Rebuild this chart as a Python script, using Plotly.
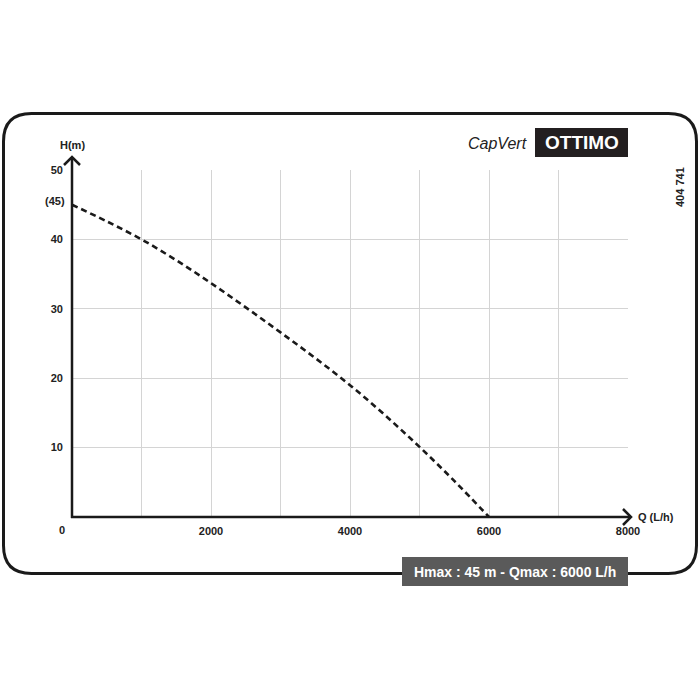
import plotly.graph_objects as go

# ---- data ----
flow_lh = [0, 500, 1000, 1500, 2000, 2500, 3000, 3500, 4000, 4500, 5000, 5500, 6000]
head_m = [45, 42.6, 40.0, 37.0, 33.7, 30.2, 26.6, 22.9, 19.0, 14.7, 10.1, 5.2, 0]
x_grid = [1000, 2000, 3000, 4000, 5000, 6000, 7000, 8000]
x_labels = ["", "2000", "", "4000", "", "6000", "", "8000"]
y_grid = [10, 20, 30, 40, 50]
y_labels = ["10", "20", "30", "40", "50"]
hmax_label = "(45)"
hmax = 45

W, H = 700, 700
L, R, T, B = 72, 628, 170, 517  # plot area in page pixels


def px(x):
    return (x - L) / (R - L)


def py(y):
    return (B - y) / (B - T)


FONT = "Liberation Sans, Arial, sans-serif"

fig = go.Figure()
fig.add_trace(go.Scatter(
    x=flow_lh, y=head_m, mode="lines",
    line=dict(color="#1a1a1a", width=2.6, dash="6px,4px", shape="spline"),
    hoverinfo="skip", showlegend=False, cliponaxis=False,
))

shapes = []
x0, x1, y0, y1, r = 3.5, 696.5, 113.5, 573.5, 28
path = (f"M {px(x0+r)},{py(y0)} L {px(x1-r)},{py(y0)} Q {px(x1)},{py(y0)} {px(x1)},{py(y0+r)} "
        f"L {px(x1)},{py(y1-r)} Q {px(x1)},{py(y1)} {px(x1-r)},{py(y1)} "
        f"L {px(x0+r)},{py(y1)} Q {px(x0)},{py(y1)} {px(x0)},{py(y1-r)} "
        f"L {px(x0)},{py(y0+r)} Q {px(x0)},{py(y0)} {px(x0+r)},{py(y0)} Z")
shapes.append(dict(type="path", xref="paper", yref="paper", path=path,
                   line=dict(color="#1a1a1a", width=3), layer="below"))
ax_line = dict(color="#1a1a1a", width=2.5)
shapes.append(dict(type="line", xref="paper", yref="paper", x0=px(72), y0=py(518), x1=px(72), y1=py(157), line=ax_line))
shapes.append(dict(type="path", xref="paper", yref="paper",
                   path=f"M {px(64)},{py(165)} L {px(72)},{py(157)} L {px(80)},{py(165)}", line=ax_line))
shapes.append(dict(type="line", xref="paper", yref="paper", x0=px(71), y0=py(517), x1=px(631), y1=py(517), line=ax_line))
shapes.append(dict(type="path", xref="paper", yref="paper",
                   path=f"M {px(623)},{py(509)} L {px(631)},{py(517)} L {px(623)},{py(525)}", line=ax_line))
shapes.append(dict(type="rect", xref="paper", yref="paper", x0=px(535), x1=px(628), y0=py(128), y1=py(157),
                   fillcolor="#231f20", line=dict(width=0)))
shapes.append(dict(type="rect", xref="paper", yref="paper", x0=px(402), x1=px(628), y0=py(557), y1=py(586),
                   fillcolor="#5a5a5a", line=dict(width=0)))

ann = []
bold = dict(family=FONT, size=11, color="#222")


def note(x, y, text, font, **kw):
    d = dict(x=px(x), y=py(y), xref="paper", yref="paper", text=text, showarrow=False,
             xanchor=kw.pop("xanchor", "center"), yanchor=kw.pop("yanchor", "middle"), font=font)
    d.update(kw)
    ann.append(d)


note(72, 145, "<b>H(m)</b>", bold)
note(636, 517, "<b>Q (L/h)</b>", bold, xanchor="left")
note(62, 530, "<b>0</b>", bold)
note(67, 201, f"<b>{hmax_label}</b>", bold, xanchor="right")
note(581.5, 142.5, "<b>OTTIMO</b>", dict(family=FONT, size=19, color="white"))
note(497, 143, "<i>CapVert</i>", dict(family=FONT, size=16, color="#222"))
note(680, 187, "<b>404 741</b>", bold, textangle=-90)
note(515, 572, "<b>Hmax : 45 m - Qmax : 6000 L/h</b>", dict(family=FONT, size=14, color="white"))

fig.update_layout(
    width=W, height=H, autosize=False,
    margin=dict(l=L, r=W - R, t=T, b=H - B, pad=0),
    plot_bgcolor="white", paper_bgcolor="white",
    shapes=shapes, annotations=ann, showlegend=False,
    xaxis=dict(range=[0, 8000], tickmode="array", tickvals=x_grid, ticktext=x_labels,
               showgrid=True, gridcolor="#d4d4d4", gridwidth=1, zeroline=False, showline=False,
               ticks="", ticklabelstandoff=6, tickfont=dict(bold, weight="bold"), fixedrange=True),
    yaxis=dict(range=[0, 50], tickmode="array", tickvals=y_grid, ticktext=y_labels,
               showgrid=True, gridcolor="#d4d4d4", gridwidth=1, zeroline=False, showline=False,
               ticks="", ticklabelstandoff=8, tickfont=dict(bold, weight="bold"), fixedrange=True),
)

fig.write_html("out.html", config={"displayModeBar": False},
               post_script="document.body.style.margin='0';document.body.style.overflow='hidden';")
